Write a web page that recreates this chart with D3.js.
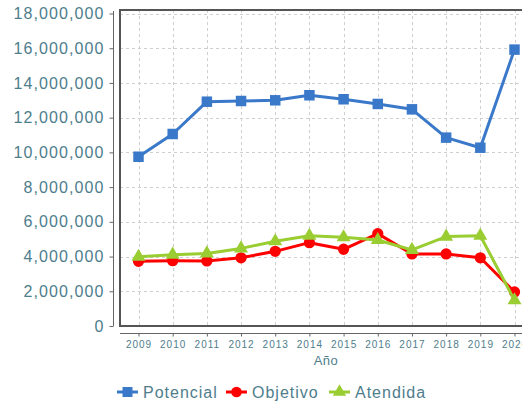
<!DOCTYPE html>
<html>
<head>
<meta charset="utf-8">
<script src="https://cdn.jsdelivr.net/npm/d3@7"></script>
<style>
  body { margin: 0; background: #fff; }
  text { font-family: "Liberation Sans", Arial, sans-serif; fill: #4e7d8c; }
</style>
</head>
<body>
<div id="chart"></div>
<script>
// data
const years = ["2009","2010","2011","2012","2013","2014","2015","2016","2017","2018","2019","2020"];
const potencial = [9750000, 11060000, 12920000, 12960000, 13000000, 13290000, 13060000, 12790000, 12480000, 10850000, 10270000, 15920000];
const objetivo = [3730000, 3760000, 3750000, 3930000, 4300000, 4800000, 4420000, 5320000, 4150000, 4150000, 3930000, 1960000];
const atendida = [3990000, 4110000, 4180000, 4470000, 4880000, 5200000, 5110000, 4950000, 4380000, 5150000, 5200000, 1480000];
const yTicks = [0, 2000000, 4000000, 6000000, 8000000, 10000000, 12000000, 14000000, 16000000, 18000000];

const series = [
  { name: "Potencial", values: potencial, color: "#3a78c9", shape: d3.symbolSquare, size: 110 },
  { name: "Objetivo", values: objetivo, color: "#ff0000", shape: d3.symbolCircle, size: 100 },
  { name: "Atendida", values: atendida, color: "#9acd32", shape: d3.symbolTriangle, size: 85 }
];

const width = 522, height = 402;
const plot = { left: 120, top: 10, bottom: 326 };

const svg = d3.select("#chart").append("svg")
  .attr("width", width)
  .attr("height", height);

const x = d3.scalePoint().domain(years).range([138.5, 514.5]);
const y = d3.scaleLinear().domain([0, 18000000]).range([plot.bottom, 13.5]);

// grid
const grid = svg.append("g").attr("stroke", "#cfcfcf").attr("stroke-dasharray", "3,3").attr("stroke-width", 1);
grid.selectAll("line.h").data(yTicks.slice(1)).join("line")
  .attr("x1", plot.left).attr("x2", width)
  .attr("y1", d => Math.round(y(d)) + 0.5).attr("y2", d => Math.round(y(d)) + 0.5);
grid.selectAll("line.v").data(years).join("line")
  .attr("x1", d => Math.round(x(d)) + 0.5).attr("x2", d => Math.round(x(d)) + 0.5)
  .attr("y1", plot.top).attr("y2", plot.bottom);

// frame
svg.append("path")
  .attr("d", `M${width + 5},${plot.top} H${plot.left} V${plot.bottom} H${width + 5}`)
  .attr("fill", "none").attr("stroke", "#555").attr("stroke-width", 2);

// y axis
const yAxis = svg.append("g")
  .attr("transform", "translate(113.5,0)")
  .call(d3.axisLeft(y).tickValues(yTicks).tickSize(4).tickPadding(5).tickFormat(d3.format(",")));
yAxis.select(".domain").attr("stroke", "#666").attr("d", `M-0,${plot.top + 1}V${plot.bottom}`);
yAxis.selectAll(".tick line").attr("stroke", "#666");
yAxis.selectAll("text").style("font-size", "16px").style("letter-spacing", "1.1px").attr("fill", "#4e7d8c");

// x axis
const xAxis = svg.append("g")
  .attr("transform", "translate(0,333.5)")
  .call(d3.axisBottom(x).tickSize(3).tickPadding(4));
xAxis.select(".domain").attr("stroke", "#666").attr("d", `M${plot.left},0H${width}`);
xAxis.selectAll(".tick line").attr("stroke", "#666");
xAxis.selectAll("text").style("font-size", "10px").style("letter-spacing", "1px").attr("fill", "#4e7d8c");

svg.append("text")
  .attr("x", 326).attr("y", 365)
  .attr("text-anchor", "middle")
  .style("font-size", "13px")
  .style("letter-spacing", "0.5px")
  .text("Año");

// lines + markers
const line = d3.line().x((d, i) => x(years[i])).y(d => y(d));
series.forEach(s => {
  svg.append("path")
    .datum(s.values)
    .attr("fill", "none")
    .attr("stroke", s.color)
    .attr("stroke-width", 3)
    .attr("stroke-linejoin", "round")
    .attr("d", line);
  svg.append("g").selectAll("path").data(s.values).join("path")
    .attr("transform", (d, i) => `translate(${x(years[i])},${y(d)})`)
    .attr("d", d3.symbol(s.shape, s.size))
    .attr("fill", s.color);
});

// legend
const legendX = [117, 226, 329];
const legend = svg.append("g").attr("transform", "translate(0,392)");
series.forEach((s, i) => {
  const g = legend.append("g").attr("transform", `translate(${legendX[i]},0)`);
  g.append("line").attr("x1", 0).attr("x2", 21).attr("y1", 0).attr("y2", 0)
    .attr("stroke", s.color).attr("stroke-width", 3);
  g.append("path").attr("transform", "translate(10.5,0)")
    .attr("d", d3.symbol(s.shape, s.size * 0.9)).attr("fill", s.color);
  g.append("text").attr("x", 26).attr("y", 6)
    .style("font-size", "16px").style("letter-spacing", "1px")
    .text(s.name);
});
</script>
</body>
</html>
